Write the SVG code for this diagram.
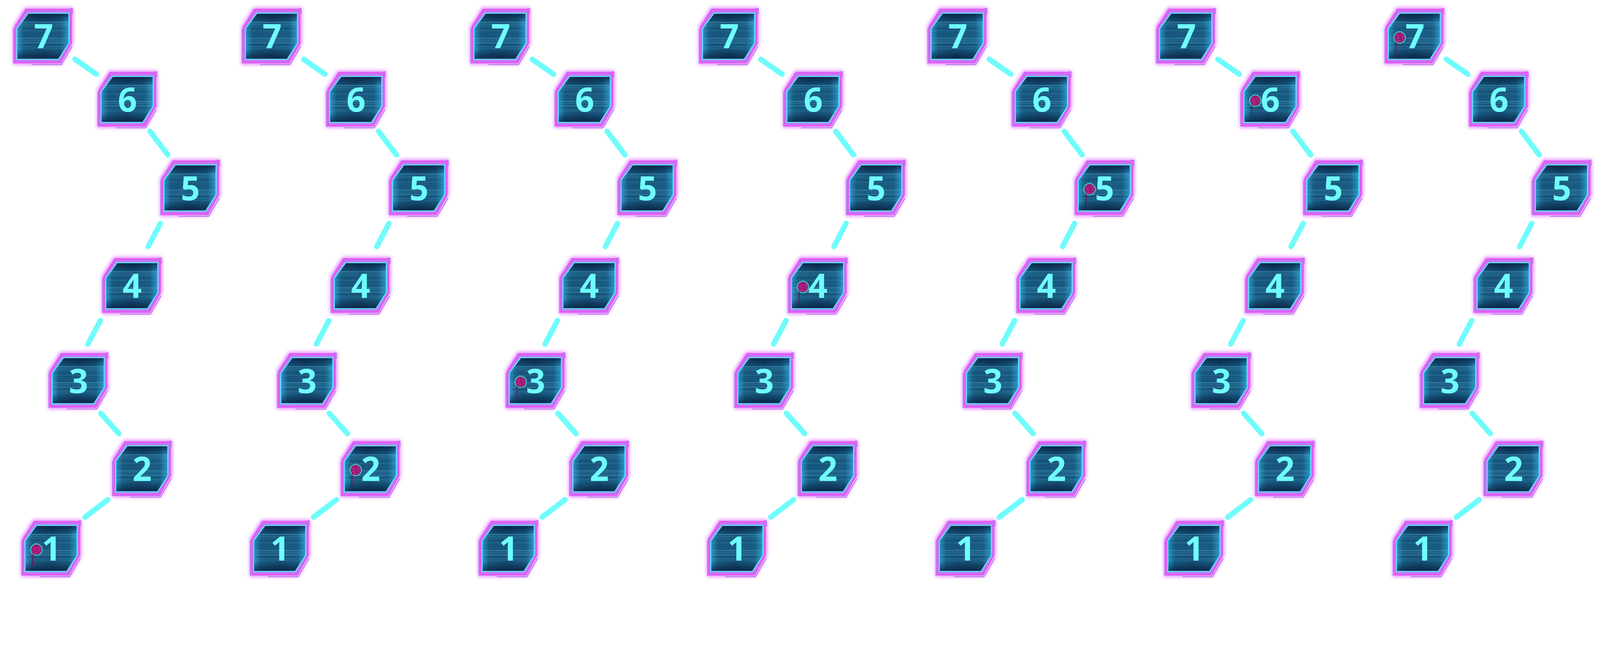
<svg xmlns="http://www.w3.org/2000/svg" width="4480" height="1683" viewBox="0 0 4480 1683" preserveAspectRatio="xMinYMin meet">
<style>
:root{width:100vw;height:100vh;display:block}
.num{font-family:"Open Sans","Noto Sans","DejaVu Sans",sans-serif;font-weight:700;font-size:94px;fill:#6ffcfc;text-anchor:middle}
.conn line{stroke:#6ffcfc;stroke-width:15;stroke-linecap:round}
</style>
<defs>
<linearGradient id="fillH" x1="0" x2="1" y1="0" y2="0">
<stop offset="0" stop-color="#2a92c4"/>
<stop offset="0.13" stop-color="#185a80"/>
<stop offset="0.5" stop-color="#144468"/>
<stop offset="0.84" stop-color="#185a80"/>
<stop offset="1" stop-color="#2a96c8"/>
</linearGradient>
<linearGradient id="fillV" x1="0" x2="0" y1="0" y2="1">
<stop offset="0" stop-color="#04193a" stop-opacity="0.75"/>
<stop offset="0.2" stop-color="#04193a" stop-opacity="0"/>
<stop offset="0.8" stop-color="#04193a" stop-opacity="0"/>
<stop offset="1" stop-color="#04193a" stop-opacity="0.75"/>
</linearGradient>
<radialGradient id="fillR" cx="0.5" cy="0.5" r="0.5">
<stop offset="0" stop-color="#226d98" stop-opacity="0.6"/>
<stop offset="1" stop-color="#226d98" stop-opacity="0"/>
</radialGradient>
<clipPath id="tileClip"><polygon points="-41,-65 73,-65 73,19 44,64 -73,64 -73,-22"/></clipPath>
<filter id="glow" x="-25%" y="-25%" width="150%" height="150%"><feGaussianBlur stdDeviation="5"/></filter>
<g id="tile">
<polygon points="-47,-75 79,-75 79,19 49,73 -78,73 -78,-26" fill="none" stroke="#e070ff" stroke-width="12" filter="url(#glow)" opacity="0.85"/>
<polyline points="83,-62 83,-78 76,-78" fill="none" stroke="#b87ae6" stroke-width="2.5"/>
<polyline points="-82,-22 -82,76" fill="none" stroke="#b87ae6" stroke-width="2.5"/>
<polyline points="-32,79 52,79 82,28" fill="none" stroke="#b87ae6" stroke-width="2.5"/>
<polygon points="-47,-75 79,-75 79,19 49,73 -78,73 -78,-26" fill="#c478f0" stroke="#df5cf8" stroke-width="5"/>
<polygon points="-41,-65 73,-65 73,19 44,64 -73,64 -73,-22" fill="url(#fillH)"/>
<g clip-path="url(#tileClip)">
<rect x="-50" y="-55" width="110" height="110" fill="url(#fillR)"/>
<g fill="#5fcdf2">
<rect x="-73" y="-41" width="146" height="3" opacity="0.35"/>
<rect x="-73" y="-35" width="146" height="2" opacity="0.3"/>
<rect x="-73" y="-30" width="146" height="2" opacity="0.25"/>
<rect x="-73" y="-17" width="146" height="2" opacity="0.2"/>
<rect x="-73" y="4" width="146" height="3" opacity="0.3"/>
<rect x="-73" y="10" width="146" height="2" opacity="0.25"/>
<rect x="-73" y="16" width="146" height="3" opacity="0.3"/>
<rect x="-73" y="28" width="146" height="2" opacity="0.25"/>
<rect x="-73" y="33" width="146" height="2" opacity="0.2"/>
</g>
<rect x="-73" y="-65" width="146" height="129" fill="url(#fillV)"/>
</g>
<polygon points="-41,-65 73,-65 73,19 44,64 -73,64 -73,-22" fill="none" stroke="#5fe3ff" stroke-width="3"/>
</g>
<g id="marker">
<circle r="16" fill="#8f1565" stroke="#3fc6c6" stroke-width="3"/>
<circle r="12.5" fill="#b8248a"/>
<path d="M-10,-5 Q0,-13 10,-5 M-12,2 Q0,-6 12,3 M-11,8 Q0,1 11,9 M-2,-12 Q5,0 2,12" stroke="#7c0d56" stroke-width="1.5" fill="none"/>
<line x1="-10" y1="12" x2="-11" y2="46" stroke="#7c0d56" stroke-width="2.5"/>
</g>
</defs>
<rect width="4480" height="1683" fill="#ffffff"/>
<g id="connectors" class="conn">
<g transform="translate(0,0)"><line x1="210" y1="166" x2="270" y2="208"/><line x1="420" y1="368" x2="470" y2="434"/><line x1="449" y1="626" x2="415" y2="691"/><line x1="281" y1="898" x2="246" y2="964"/><line x1="282" y1="1158" x2="333" y2="1215"/><line x1="302" y1="1400" x2="238" y2="1449"/></g>
<g transform="translate(640,0)"><line x1="210" y1="166" x2="270" y2="208"/><line x1="420" y1="368" x2="470" y2="434"/><line x1="449" y1="626" x2="415" y2="691"/><line x1="281" y1="898" x2="246" y2="964"/><line x1="282" y1="1158" x2="333" y2="1215"/><line x1="302" y1="1400" x2="238" y2="1449"/></g>
<g transform="translate(1280,0)"><line x1="210" y1="166" x2="270" y2="208"/><line x1="420" y1="368" x2="470" y2="434"/><line x1="449" y1="626" x2="415" y2="691"/><line x1="281" y1="898" x2="246" y2="964"/><line x1="282" y1="1158" x2="333" y2="1215"/><line x1="302" y1="1400" x2="238" y2="1449"/></g>
<g transform="translate(1920,0)"><line x1="210" y1="166" x2="270" y2="208"/><line x1="420" y1="368" x2="470" y2="434"/><line x1="449" y1="626" x2="415" y2="691"/><line x1="281" y1="898" x2="246" y2="964"/><line x1="282" y1="1158" x2="333" y2="1215"/><line x1="302" y1="1400" x2="238" y2="1449"/></g>
<g transform="translate(2560,0)"><line x1="210" y1="166" x2="270" y2="208"/><line x1="420" y1="368" x2="470" y2="434"/><line x1="449" y1="626" x2="415" y2="691"/><line x1="281" y1="898" x2="246" y2="964"/><line x1="282" y1="1158" x2="333" y2="1215"/><line x1="302" y1="1400" x2="238" y2="1449"/></g>
<g transform="translate(3200,0)"><line x1="210" y1="166" x2="270" y2="208"/><line x1="420" y1="368" x2="470" y2="434"/><line x1="449" y1="626" x2="415" y2="691"/><line x1="281" y1="898" x2="246" y2="964"/><line x1="282" y1="1158" x2="333" y2="1215"/><line x1="302" y1="1400" x2="238" y2="1449"/></g>
<g transform="translate(3840,0)"><line x1="210" y1="166" x2="270" y2="208"/><line x1="420" y1="368" x2="470" y2="434"/><line x1="449" y1="626" x2="415" y2="691"/><line x1="281" y1="898" x2="246" y2="964"/><line x1="282" y1="1158" x2="333" y2="1215"/><line x1="302" y1="1400" x2="238" y2="1449"/></g>
</g>
<g id="panel1">
<g id="p1-n7" transform="translate(120,102)"><use href="#tile"/><text class="num" x="2" y="34">7</text></g>
<g id="p1-n6" transform="translate(356,279)"><use href="#tile"/><text class="num" x="1" y="34">6</text></g>
<g id="p1-n5" transform="translate(532,527)"><use href="#tile"/><text class="num" x="1" y="34">5</text></g>
<g id="p1-n4" transform="translate(369,801)"><use href="#tile"/><text class="num" x="1" y="34">4</text></g>
<g id="p1-n3" transform="translate(219,1067)"><use href="#tile"/><text class="num" x="1" y="34">3</text></g>
<g id="p1-n2" transform="translate(397,1314)"><use href="#tile"/><text class="num" x="1" y="34">2</text></g>
<g id="p1-n1" transform="translate(143,1537)"><use href="#tile"/><text class="num" x="1" y="34">1</text><use href="#marker" x="-41" y="3"/></g>
</g>
<g id="panel2" transform="translate(640,0)">
<g id="p2-n7" transform="translate(120,102)"><use href="#tile"/><text class="num" x="2" y="34">7</text></g>
<g id="p2-n6" transform="translate(356,279)"><use href="#tile"/><text class="num" x="1" y="34">6</text></g>
<g id="p2-n5" transform="translate(532,527)"><use href="#tile"/><text class="num" x="1" y="34">5</text></g>
<g id="p2-n4" transform="translate(369,801)"><use href="#tile"/><text class="num" x="1" y="34">4</text></g>
<g id="p2-n3" transform="translate(219,1067)"><use href="#tile"/><text class="num" x="1" y="34">3</text></g>
<g id="p2-n2" transform="translate(397,1314)"><use href="#tile"/><text class="num" x="1" y="34">2</text><use href="#marker" x="-41" y="3"/></g>
<g id="p2-n1" transform="translate(143,1537)"><use href="#tile"/><text class="num" x="1" y="34">1</text></g>
</g>
<g id="panel3" transform="translate(1280,0)">
<g id="p3-n7" transform="translate(120,102)"><use href="#tile"/><text class="num" x="2" y="34">7</text></g>
<g id="p3-n6" transform="translate(356,279)"><use href="#tile"/><text class="num" x="1" y="34">6</text></g>
<g id="p3-n5" transform="translate(532,527)"><use href="#tile"/><text class="num" x="1" y="34">5</text></g>
<g id="p3-n4" transform="translate(369,801)"><use href="#tile"/><text class="num" x="1" y="34">4</text></g>
<g id="p3-n3" transform="translate(219,1067)"><use href="#tile"/><text class="num" x="1" y="34">3</text><use href="#marker" x="-41" y="3"/></g>
<g id="p3-n2" transform="translate(397,1314)"><use href="#tile"/><text class="num" x="1" y="34">2</text></g>
<g id="p3-n1" transform="translate(143,1537)"><use href="#tile"/><text class="num" x="1" y="34">1</text></g>
</g>
<g id="panel4" transform="translate(1920,0)">
<g id="p4-n7" transform="translate(120,102)"><use href="#tile"/><text class="num" x="2" y="34">7</text></g>
<g id="p4-n6" transform="translate(356,279)"><use href="#tile"/><text class="num" x="1" y="34">6</text></g>
<g id="p4-n5" transform="translate(532,527)"><use href="#tile"/><text class="num" x="1" y="34">5</text></g>
<g id="p4-n4" transform="translate(369,801)"><use href="#tile"/><text class="num" x="1" y="34">4</text><use href="#marker" x="-41" y="3"/></g>
<g id="p4-n3" transform="translate(219,1067)"><use href="#tile"/><text class="num" x="1" y="34">3</text></g>
<g id="p4-n2" transform="translate(397,1314)"><use href="#tile"/><text class="num" x="1" y="34">2</text></g>
<g id="p4-n1" transform="translate(143,1537)"><use href="#tile"/><text class="num" x="1" y="34">1</text></g>
</g>
<g id="panel5" transform="translate(2560,0)">
<g id="p5-n7" transform="translate(120,102)"><use href="#tile"/><text class="num" x="2" y="34">7</text></g>
<g id="p5-n6" transform="translate(356,279)"><use href="#tile"/><text class="num" x="1" y="34">6</text></g>
<g id="p5-n5" transform="translate(532,527)"><use href="#tile"/><text class="num" x="1" y="34">5</text><use href="#marker" x="-41" y="3"/></g>
<g id="p5-n4" transform="translate(369,801)"><use href="#tile"/><text class="num" x="1" y="34">4</text></g>
<g id="p5-n3" transform="translate(219,1067)"><use href="#tile"/><text class="num" x="1" y="34">3</text></g>
<g id="p5-n2" transform="translate(397,1314)"><use href="#tile"/><text class="num" x="1" y="34">2</text></g>
<g id="p5-n1" transform="translate(143,1537)"><use href="#tile"/><text class="num" x="1" y="34">1</text></g>
</g>
<g id="panel6" transform="translate(3200,0)">
<g id="p6-n7" transform="translate(120,102)"><use href="#tile"/><text class="num" x="2" y="34">7</text></g>
<g id="p6-n6" transform="translate(356,279)"><use href="#tile"/><text class="num" x="1" y="34">6</text><use href="#marker" x="-41" y="3"/></g>
<g id="p6-n5" transform="translate(532,527)"><use href="#tile"/><text class="num" x="1" y="34">5</text></g>
<g id="p6-n4" transform="translate(369,801)"><use href="#tile"/><text class="num" x="1" y="34">4</text></g>
<g id="p6-n3" transform="translate(219,1067)"><use href="#tile"/><text class="num" x="1" y="34">3</text></g>
<g id="p6-n2" transform="translate(397,1314)"><use href="#tile"/><text class="num" x="1" y="34">2</text></g>
<g id="p6-n1" transform="translate(143,1537)"><use href="#tile"/><text class="num" x="1" y="34">1</text></g>
</g>
<g id="panel7" transform="translate(3840,0)">
<g id="p7-n7" transform="translate(120,102)"><use href="#tile"/><text class="num" x="2" y="34">7</text><use href="#marker" x="-41" y="3"/></g>
<g id="p7-n6" transform="translate(356,279)"><use href="#tile"/><text class="num" x="1" y="34">6</text></g>
<g id="p7-n5" transform="translate(532,527)"><use href="#tile"/><text class="num" x="1" y="34">5</text></g>
<g id="p7-n4" transform="translate(369,801)"><use href="#tile"/><text class="num" x="1" y="34">4</text></g>
<g id="p7-n3" transform="translate(219,1067)"><use href="#tile"/><text class="num" x="1" y="34">3</text></g>
<g id="p7-n2" transform="translate(397,1314)"><use href="#tile"/><text class="num" x="1" y="34">2</text></g>
<g id="p7-n1" transform="translate(143,1537)"><use href="#tile"/><text class="num" x="1" y="34">1</text></g>
</g>
</svg>
